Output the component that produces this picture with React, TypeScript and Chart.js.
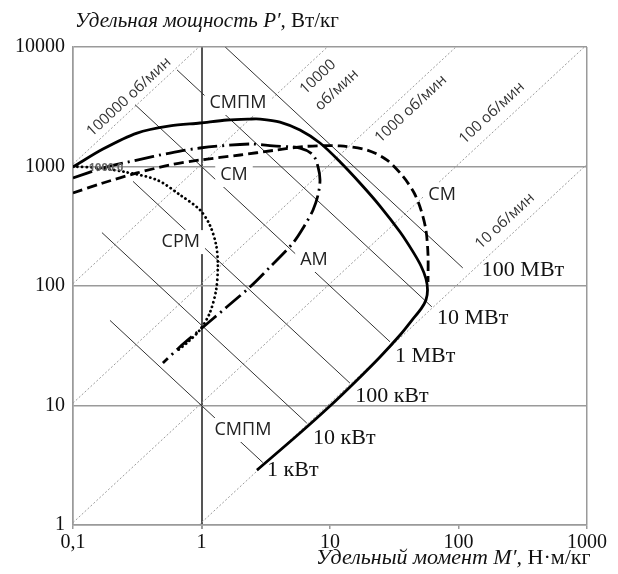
import React, { useEffect, useRef } from 'react';
import { Chart, registerables } from 'chart.js';

Chart.register(...registerables);

// ---- axes ----
const xTicks = [0.1, 1, 10, 100, 1000];
const xTickLabels = ['0,1', '1', '10', '100', '1000'];
const yTicks = [1, 10, 100, 1000, 10000];
const yTickLabels = ['1', '10', '100', '1000', '10000'];

// ---- curves (specific torque M', specific power P') ----
const smpmM = [0.1, 0.171, 0.315, 0.569, 0.973, 1.58, 2.38, 2.85, 4.08, 5.84, 8.36, 12.0, 17.1, 24.5, 35.1, 44.3, 51.1, 55.8, 57.4, 55.8, 51.1, 43.5, 35.1, 24.5, 16.2, 10, 5.84, 2.7];
const smpmP = [991, 1400, 1905, 2183, 2312, 2449, 2496, 2496, 2355, 2018, 1573, 1091, 728, 467, 283, 193, 147, 115, 92.7, 76.4, 64.3, 51.9, 38.9, 25.5, 16.3, 9.91, 5.89, 2.88];

const smM = [0.1, 0.171, 0.315, 0.569, 0.973, 2.0, 3.6, 6.62, 12.0, 19.4, 27.8, 37.0, 45.2, 51.1, 55.8, 57.9, 57.9];
const smP = [600, 728, 883, 1030, 1133, 1248, 1361, 1476, 1486, 1375, 1133, 825, 600, 432, 294, 182, 108];

const amM = [0.1, 0.171, 0.315, 0.569, 0.973, 2.38, 3.6, 5.84, 7.38, 8.07, 8.36, 8.07, 7.38, 6.38, 5.15, 3.41, 2.38, 1.58, 0.973, 0.681, 0.501];
const amP = [802, 971, 1133, 1297, 1428, 1543, 1486, 1428, 1248, 991, 771, 578, 433, 324, 229, 144, 98, 67, 43, 31, 22.7];

const srmM = [0.1, 0.162, 0.254, 0.451, 0.681, 0.973, 1.16, 1.30, 1.34, 1.30, 1.16, 0.973, 0.785, 0.656];
const srmP = [1000, 970, 900, 771, 578, 433, 324, 220, 150, 92.7, 59.5, 43, 34, 29];

// ---- constant speed lines P' = M' * 2*pi*n/60 ----
const speedRpm = [100000, 10000, 1000, 100, 10];

// ---- constant power lines P' * M' = const ----
const powerLabels = ['100 МВт', '10 МВт', '1 МВт', '100 кВт', '10 кВт', '1 кВт'];
const powerProduct = [15300, 4150, 1000, 220, 47, 10];
const powerStartM = [1.53, 0.645, 0.304, 0.293, 0.168, 0.194];
const powerEndM = [108, 62, 29.3, 14.3, 6.6, 3.0];
const powerLabelM = [152, 68, 32, 15.7, 7.38, 3.24];
const powerLabelP = [136, 54, 25.9, 12.0, 5.35, 2.88];

// ---- curve labels ----
const curveLabels = ['СМПМ', 'СМ', 'СРМ', 'АМ', 'СМ', 'СМПМ'];
const curveLabelM = [1.92, 1.79, 0.69, 7.5, 74.5, 2.1];
const curveLabelP = [3400, 849, 233, 165, 578, 6.24];

// ---- speed labels ----
const speedLabelTexts = ['100000 об/мин', '10000', 'об/мин', '1000 об/мин', '100 об/мин', '10 об/мин'];
const speedLabelM = [0.273, 8.07, 11.3, 42.7, 182, 230];
const speedLabelP = [3820, 5610, 4365, 3030, 2805, 350];

const strayText = '1000.0';
const strayM = 0.181;
const strayP = 971;

const SERIF = '"Liberation Serif", "Times New Roman", serif';
const SANS = '"Open Sans", "Noto Sans", sans-serif';

const pts = (ms: number[], ps: number[]) => ms.map((m, i) => ({ x: m, y: ps[i] }));

export default function App() {
  const ref = useRef<HTMLCanvasElement>(null);

  useEffect(() => {
    const canvas = ref.current!;
    const base = { showLine: true, pointRadius: 0, pointHoverRadius: 0, fill: false, borderCapStyle: 'butt' };
    const datasets: any[] = [
      { ...base, label: 'СМПМ', data: pts(smpmM, smpmP), borderColor: '#000', borderWidth: 2.8, tension: 0.3 },
      { ...base, label: 'СМ', data: pts(smM, smP), borderColor: '#000', borderWidth: 2.8, tension: 0.3, borderDash: [10, 5] },
      { ...base, label: 'АМ', data: pts(amM, amP), borderColor: '#000', borderWidth: 2.8, tension: 0.3, borderDash: [20, 5, 2, 5] },
      { ...base, label: 'СРМ', data: pts(srmM, srmP), borderColor: '#000', borderWidth: 2.8, tension: 0.3, borderDash: [0.1, 4.5], borderCapStyle: 'round' },
    ];
    powerProduct.forEach((c, i) => {
      datasets.push({
        ...base, label: powerLabels[i],
        data: [{ x: powerStartM[i], y: c / powerStartM[i] }, { x: powerEndM[i], y: c / powerEndM[i] }],
        borderColor: '#333', borderWidth: 1, tension: 0,
      });
    });
    speedRpm.forEach((n) => {
      const k = (2 * Math.PI * n) / 60;
      const m1 = Math.max(0.1, 1 / k);
      const m2 = Math.min(1000, 10000 / k);
      datasets.push({
        ...base, label: n + ' об/мин',
        data: [{ x: m1, y: k * m1 }, { x: m2, y: k * m2 }],
        borderColor: '#9a9a9a', borderWidth: 1, tension: 0, borderDash: [2, 2],
      });
    });

    const annot = {
      id: 'annot',
      beforeDatasetDraw(chart: any, args: any) {
        if (args.index !== 3) return;
        const { ctx, scales } = chart;
        ctx.save();
        ctx.font = '18px ' + SANS;
        ctx.fillStyle = '#fff';
        curveLabels.forEach((t, i) => {
          const x = scales.x.getPixelForValue(curveLabelM[i]);
          const y = scales.y.getPixelForValue(curveLabelP[i]);
          const w = ctx.measureText(t).width;
          ctx.fillRect(x - w / 2 - 5, y - 12, w + 10, 24);
        });
        ctx.restore();
      },
      afterDraw(chart: any) {
        const { ctx, scales } = chart;
        const X = (v: number) => scales.x.getPixelForValue(v);
        const Y = (v: number) => scales.y.getPixelForValue(v);
        ctx.save();
        // curve labels
        ctx.font = '18px ' + SANS;
        ctx.fillStyle = '#222';
        ctx.textAlign = 'center';
        ctx.textBaseline = 'middle';
        curveLabels.forEach((t, i) => ctx.fillText(t, X(curveLabelM[i]), Y(curveLabelP[i])));
        // speed labels (rotated along the lines)
        const ang = Math.atan2(Y(10) - Y(1), X(10) - X(1));
        ctx.font = '15px ' + SANS;
        ctx.fillStyle = '#333';
        speedLabelTexts.forEach((t, i) => {
          ctx.save();
          ctx.translate(X(speedLabelM[i]), Y(speedLabelP[i]));
          ctx.rotate(ang);
          ctx.fillText(t, 0, 0);
          ctx.restore();
        });
        // power labels
        ctx.font = '22px ' + SERIF;
        ctx.fillStyle = '#111';
        ctx.textAlign = 'left';
        powerLabels.forEach((t, i) => ctx.fillText(t, X(powerLabelM[i]), Y(powerLabelP[i])));
        // stray label
        ctx.font = 'bold 11px ' + SANS;
        ctx.fillStyle = '#666';
        ctx.textAlign = 'center';
        ctx.fillText(strayText, X(strayM), Y(strayP));
        // axis titles
        ctx.textBaseline = 'alphabetic';
        ctx.textAlign = 'left';
        ctx.fillStyle = '#111';
        ctx.font = 'italic 21px ' + SERIF;
        const t1 = 'Удельная мощность P′, ';
        ctx.fillText(t1, 75, 27);
        const w1 = ctx.measureText(t1).width;
        ctx.font = '21px ' + SERIF;
        ctx.fillText('Вт/кг', 75 + w1, 27);
        ctx.font = 'italic 22px ' + SERIF;
        const t2 = 'Удельный момент M′, ';
        const w2 = ctx.measureText(t2).width;
        const x0 = 316;
        ctx.fillText(t2, x0, 564);
        ctx.font = '22px ' + SERIF;
        ctx.fillText('Н·м/кг', x0 + w2, 564);
        ctx.restore();
      },
    };

    const chart = new Chart(canvas, {
      type: 'scatter',
      data: { datasets },
      options: {
        animation: false,
        responsive: false,
        devicePixelRatio: 1,
        events: [],
        layout: { padding: { left: 0, top: 47, right: 31, bottom: 0 } },
        plugins: { legend: { display: false }, title: { display: false }, tooltip: { enabled: false } },
        scales: {
          x: {
            type: 'logarithmic',
            min: 0.1,
            max: 1000,
            afterBuildTicks: (axis: any) => { axis.ticks = xTicks.map((v) => ({ value: v })); },
            afterFit: (axis: any) => { axis.height = 49; },
            ticks: {
              autoSkip: false,
              maxRotation: 0,
              padding: 2,
              color: '#111',
              font: { family: SERIF, size: 20 },
              callback: (_v: any, i: number) => xTickLabels[i],
            },
            grid: {
              drawTicks: true,
              tickLength: 4,
              tickColor: '#9a9a9a',
              color: (c: any) => (c.tick && c.tick.value === 1 ? '#555' : c.tick && (c.tick.value === 0.1 || c.tick.value === 1000) ? '#9a9a9a' : 'rgba(0,0,0,0)'),
              lineWidth: (c: any) => (c.tick && c.tick.value === 1 ? 2 : 1.5),
            },
            border: { display: true, color: '#9a9a9a', width: 1.5 },
          },
          y: {
            type: 'logarithmic',
            min: 1,
            max: 10000,
            afterBuildTicks: (axis: any) => { axis.ticks = yTicks.map((v) => ({ value: v })); },
            afterFit: (axis: any) => { axis.width = 73; },
            ticks: {
              autoSkip: false,
              padding: 8,
              color: '#111',
              font: { family: SERIF, size: 20 },
              callback: (_v: any, i: number) => yTickLabels[i],
            },
            grid: { drawTicks: false, color: '#9a9a9a', lineWidth: 1.5 },
            border: { display: true, color: '#9a9a9a', width: 1.5 },
          },
        },
      } as any,
      plugins: [annot],
    });
    return () => chart.destroy();
  }, []);

  return (
    <div style={{ position: 'fixed', left: 0, top: 0, width: 618, height: 574, background: '#fff' }}>
      <canvas ref={ref} width={618} height={574} style={{ display: 'block' }} />
    </div>
  );
}
